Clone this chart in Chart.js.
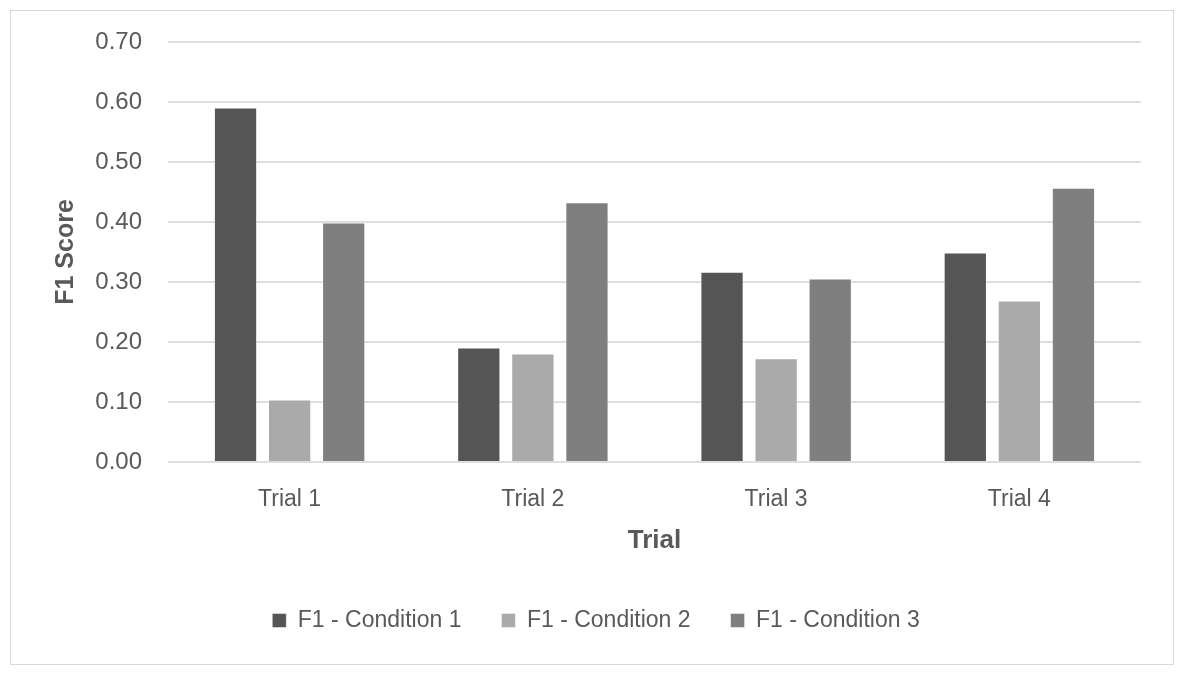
<!DOCTYPE html>
<html>
<head>
<meta charset="utf-8">
<script src="https://cdn.jsdelivr.net/npm/chart.js@4.4.1/dist/chart.umd.min.js"></script>
<style>
  html, body { margin: 0; padding: 0; background: #ffffff; }
  #wrap { width: 1183px; height: 674px; position: relative; }
</style>
</head>
<body>
<div id="wrap"><canvas id="chart" width="1183" height="674"></canvas></div>
<script>
const trials = ['Trial 1', 'Trial 2', 'Trial 3', 'Trial 4'];
const condition1 = [0.591, 0.191, 0.317, 0.349];
const condition2 = [0.104, 0.181, 0.173, 0.269];
const condition3 = [0.399, 0.433, 0.306, 0.457];
const seriesNames = ['F1 - Condition 1', 'F1 - Condition 2', 'F1 - Condition 3'];
const seriesColors = ['#555555', '#aaaaaa', '#7f7f7f'];

const textGray = '#595959';
const sans = "'Liberation Sans', Arial, sans-serif";

// thin grey frame round the whole picture, like the office chart area
const frame = {
  id: 'frame',
  beforeDraw(chart) {
    const ctx = chart.ctx;
    ctx.save();
    ctx.fillStyle = '#ffffff';
    ctx.fillRect(0, 0, chart.width, chart.height);
    ctx.strokeStyle = '#d9d9d9';
    ctx.lineWidth = 1;
    ctx.strokeRect(10.5, 10.5, 1163, 654);
    ctx.restore();
  },
};

const makeSet = (label, data, color) => ({
  label,
  data,
  backgroundColor: color,
  borderColor: 'rgba(255,255,255,0.45)',
  borderWidth: 1,
  categoryPercentage: 0.667,
  barPercentage: 0.8,
});

new Chart(document.getElementById('chart'), {
  type: 'bar',
  data: {
    labels: trials,
    datasets: [
      makeSet(seriesNames[0], condition1, seriesColors[0]),
      makeSet(seriesNames[1], condition2, seriesColors[1]),
      makeSet(seriesNames[2], condition3, seriesColors[2]),
    ],
  },
  options: {
    responsive: false,
    animation: false,
    devicePixelRatio: 1,
    layout: { padding: { left: 51, right: 42, top: 42, bottom: 32 } },
    plugins: {
      tooltip: { enabled: false },
      legend: {
        position: 'bottom',
        labels: {
          boxWidth: 14,
          boxHeight: 14,
          padding: 40,
          color: textGray,
          font: { family: sans, size: 23 },
        },
      },
    },
    scales: {
      x: {
        grid: { display: false },
        border: { display: false },
        ticks: {
          color: textGray,
          padding: 16,
          font: { family: sans, size: 23 },
        },
        title: {
          display: true,
          text: 'Trial',
          color: textGray,
          padding: { top: 0, bottom: 13 },
          font: { family: sans, size: 26, weight: 'bold' },
        },
        afterFit(scale) { scale.height = 107; },
      },
      y: {
        min: 0,
        max: 0.7,
        grid: { color: '#dedede', lineWidth: 2, drawTicks: false },
        border: { display: false },
        ticks: {
          stepSize: 0.1,
          color: textGray,
          padding: 26,
          font: { family: sans, size: 24 },
          callback: (v) => v.toFixed(2),
        },
        title: {
          display: true,
          text: 'F1 Score',
          color: textGray,
          padding: { top: 0, bottom: 0 },
          font: { family: sans, size: 25, weight: 'bold' },
        },
        afterFit(scale) { scale.width = 117; },
      },
    },
  },
  plugins: [frame],
});
</script>
</body>
</html>
